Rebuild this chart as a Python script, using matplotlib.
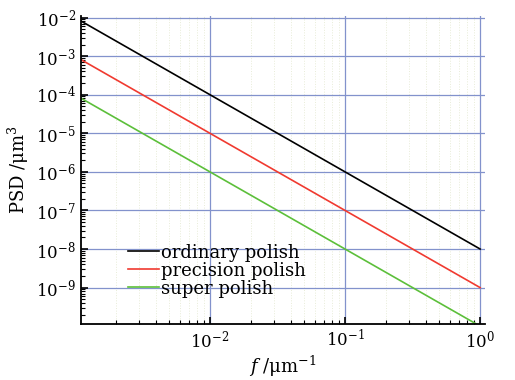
import numpy as np
import matplotlib
matplotlib.use("Agg")
import matplotlib.pyplot as plt
from matplotlib.ticker import LogLocator, NullFormatter

plt.rcParams['font.family'] = 'DejaVu Serif'
plt.rcParams['mathtext.fontset'] = 'dejavuserif'

# PSD = K * f^-2 for the three polish grades
freq = np.array([1.107e-3, 1.0])
labels = ['ordinary polish', 'precision polish', 'super polish']
coeffs = [1e-8, 1e-9, 1e-10]
colors = ['black', '#f03a30', '#5cbf3a']

fig = plt.figure(figsize=(5.15, 3.8), dpi=100)
ax = fig.add_axes([0.157, 0.147, 0.785, 0.811])

for k, lab, col in zip(coeffs, labels, colors):
    ax.plot(freq, k * freq ** -2.0, color=col, lw=1.2, label=lab)

ax.set_xscale('log')
ax.set_yscale('log')
ax.set_xlim(1.107e-3, 1.089)
ax.set_ylim(1.13e-10, 1.1e-2)

ax.xaxis.set_major_locator(LogLocator(base=10, numticks=10))
ax.yaxis.set_major_locator(LogLocator(base=10, numticks=12))
ax.xaxis.set_minor_locator(LogLocator(base=10, subs=np.arange(2, 10), numticks=12))
ax.yaxis.set_minor_locator(LogLocator(base=10, subs=np.arange(2, 10), numticks=12))
ax.xaxis.set_minor_formatter(NullFormatter())
ax.yaxis.set_minor_formatter(NullFormatter())

ax.grid(True, which='major', color='#8292cc', lw=0.9)
ax.grid(True, which='minor', axis='x', color='#e8ecd8', lw=0.7, ls=':')
ax.set_axisbelow(True)

ax.spines['top'].set_visible(False)
ax.spines['right'].set_visible(False)
ax.spines['left'].set_linewidth(1.3)
ax.spines['bottom'].set_linewidth(1.3)
ax.tick_params(which='both', direction='in', labelsize=12)
ax.tick_params(which='major', length=5, width=1.2)
ax.tick_params(which='minor', length=3, width=0.8)

ax.set_xlabel(r'$f$ /μm$^{-1}$', fontsize=13, labelpad=2)
ax.set_ylabel(r'PSD /μm$^3$', fontsize=13, labelpad=4)

ax.legend(loc='lower left', bbox_to_anchor=(0.098, 0.062), frameon=False,
          fontsize=13, handlelength=1.75, handletextpad=0.1, labelspacing=0.0,
          borderaxespad=0)

fig.savefig('out.png', dpi=100)
